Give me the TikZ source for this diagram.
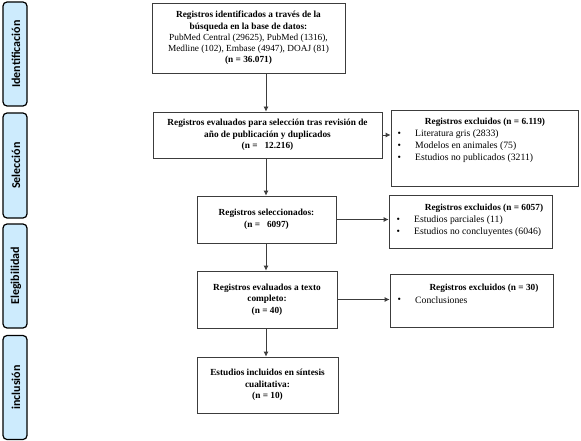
\documentclass[tikz,border=0pt]{standalone}
\usepackage{fontspec}
\setmainfont{Liberation Serif}
\newfontfamily\barfont{Carlito}
\usetikzlibrary{arrows.meta}
\definecolor{barblue}{HTML}{CDEBFD}
\definecolor{linegray}{HTML}{3C3C3C}
\tikzset{
  phase/.style={draw=black, line width=1.2pt, fill=barblue, rounded corners=4pt,
    minimum width=24pt, inner sep=0pt},
  phasetext/.style={rotate=90, font=\barfont\bfseries\fontsize{12}{13}\selectfont, inner sep=0pt},
  stagebox/.style={draw=linegray, line width=0.8pt, align=center, inner sep=0pt,
    font=\fontsize{9.3}{11.2}\selectfont},
  boldstage/.style={stagebox, font=\bfseries\fontsize{9.3}{11.5}\selectfont},
  exclbox/.style={draw=linegray, line width=0.8pt, inner sep=0pt},
  hdr/.style={font=\bfseries\fontsize{9.3}{11}\selectfont, inner sep=0pt},
  itemtext/.style={font=\fontsize{9.7}{11}\selectfont, inner sep=0pt, anchor=west},
  arr/.style={draw=linegray, line width=0.8pt, -{Latex[length=5pt,width=5pt]}},
}
\begin{document}
\begin{tikzpicture}[x=1pt,y=-1pt]
\useasboundingbox (0,0) rectangle (581,441);
% phase bars
\node[phase, minimum height=104pt] (p1) at (15,54) {};
\node[phasetext] (p1t) at (16,54) {Identificación};
\node[phase, minimum height=105pt] (p2) at (15,165.5) {};
\node[phasetext] (p2t) at (16,165.5) {Selección};
\node[phase, minimum height=104pt] (p3) at (15,276) {};
\node[phasetext] (p3t) at (16,276) {Elegibilidad};
\node[phase, minimum height=104pt] (p4) at (15,387.5) {};
\node[phasetext] (p4t) at (16,387.5) {inclusión};
% spine
\coordinate (spine) at (266,0);
% main boxes
\node[stagebox, minimum width=193pt, minimum height=70pt] (b1) at (248.5,38)
  {\textbf{Registros identificados a través de la}\\
   \textbf{búsqueda en la base de datos:}\\
   PubMed Central (29625), PubMed (1316),\\
   Medline (102), Embase (4947), DOAJ (81)\\
   \textbf{(n = 36.071)}};
\node[boldstage, minimum width=229pt, minimum height=46pt] (b2) at (267.5,135)
  {Registros evaluados para selección tras revisión de\\
   año de publicación y duplicados\\
   (n =\ \ \ 12.216)};
\node[boldstage, minimum width=139pt, minimum height=47pt] (b3) at (266.5,219.5)
  {Registros seleccionados:\\ (n =\ \ \ 6097)};
\node[boldstage, minimum width=140pt, minimum height=57pt] (b4) at (267,299.5)
  {Registros evaluados a texto\\ completo:\\ (n = 40)};
\node[boldstage, minimum width=141pt, minimum height=56pt] (b5) at (267.5,385)
  {Estudios incluidos en síntesis\\ cualitativa:\\ (n = 10)};
% excluded boxes
\node[exclbox, minimum width=187pt, minimum height=76pt] (e1) at (484.5,148) {};
\node[hdr] (e1h) at (485,122) {Registros excluidos (n = 6.119)};
\node[itemtext] (e1a) at (397.5,134) {\textbullet};
\node[itemtext] (e1at) at (415,134) {Literatura gris (2833)};
\node[itemtext] (e1b) at (397.5,146) {\textbullet};
\node[itemtext] (e1bt) at (415,146) {Modelos en animales (75)};
\node[itemtext] (e1c) at (397.5,158) {\textbullet};
\node[itemtext] (e1ct) at (415,158) {Estudios no publicados (3211)};

\node[exclbox, minimum width=163pt, minimum height=53pt] (e2) at (470.5,221.5) {};
\node[hdr] (e2h) at (484,208) {Registros excluidos (n = 6057)};
\node[itemtext] (e2a) at (396.5,220) {\textbullet};
\node[itemtext] (e2at) at (414,220) {Estudios parciales (11)};
\node[itemtext] (e2b) at (396.5,232) {\textbullet};
\node[itemtext] (e2bt) at (414,232) {Estudios no concluyentes (6046)};

\node[exclbox, minimum width=163pt, minimum height=53pt] (e3) at (471.5,300.5) {};
\node[hdr] (e3h) at (484,288) {Registros excluidos (n = 30)};
\node[itemtext] (e3a) at (397.5,300) {\textbullet};
\node[itemtext] (e3at) at (415,300) {Conclusiones};
% connectors
\draw[arr] (b1.south -| spine) -- (b2.north -| spine);
\draw[arr] (b2.south -| spine) -- (b3.north -| spine);
\draw[arr] (b3.south -| spine) -- (b4.north -| spine);
\draw[arr] (b4.south -| spine) -- (b5.north -| spine);
\draw[arr] (b2.east) -- (b2.east -| e1.west);
\draw[arr] (b3.east) -- (b3.east -| e2.west);
\draw[arr] (b4.east) -- (b4.east -| e3.west);
\end{tikzpicture}
\end{document}
